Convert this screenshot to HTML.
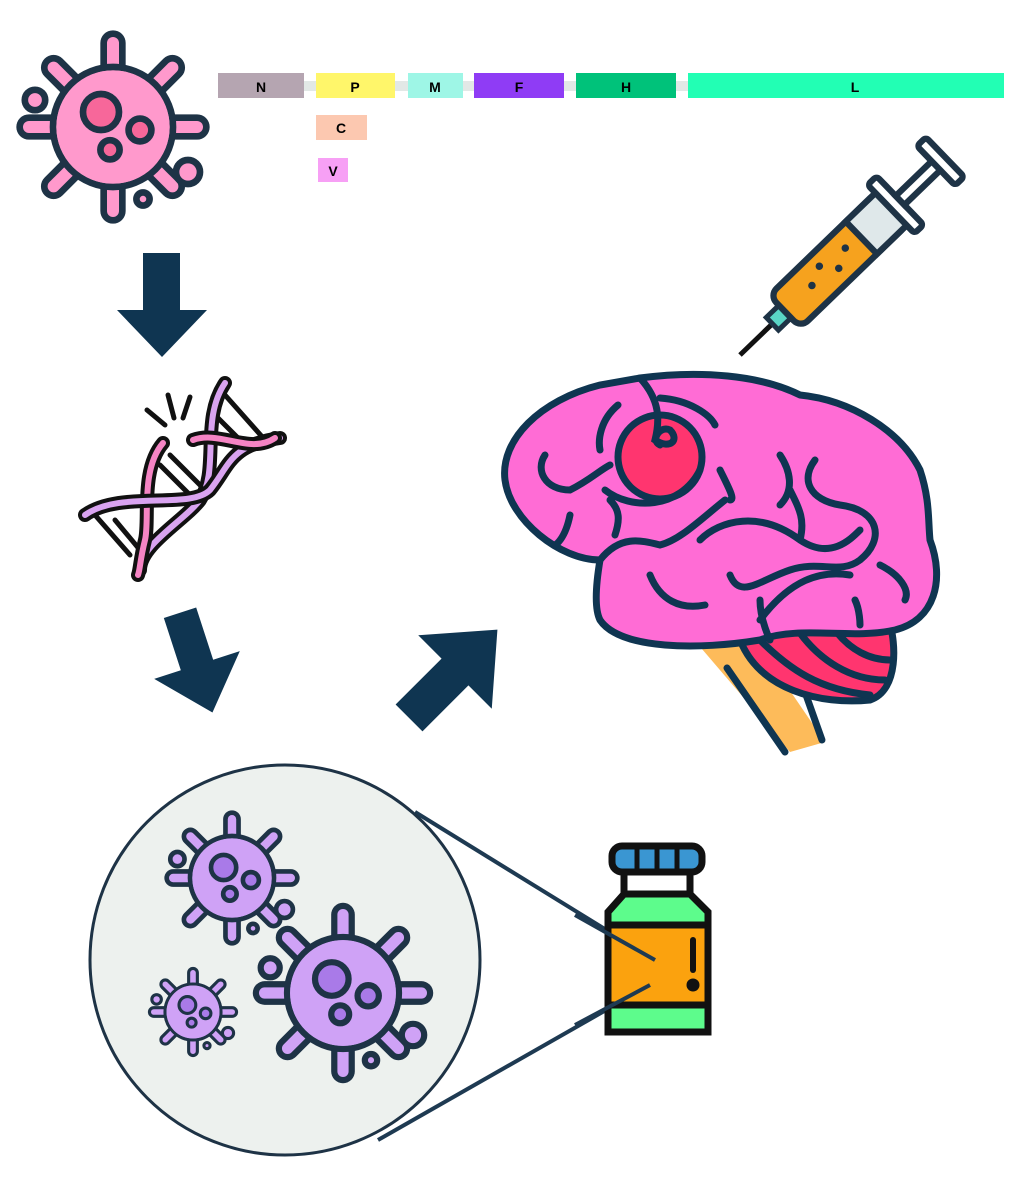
<!DOCTYPE html>
<html><head><meta charset="utf-8"><style>
html,body{margin:0;padding:0;background:#fff;width:1028px;height:1183px;overflow:hidden}
svg{display:block}
text{font-family:"Liberation Sans",sans-serif;font-weight:bold;font-size:14px;text-anchor:middle}
</style></head><body>
<svg id="s" width="1028" height="1183" viewBox="0 0 1028 1183" xmlns="http://www.w3.org/2000/svg">
<!-- gene bars -->
<rect x="300" y="81" width="700" height="10" fill="#e2e8e6"/>
<rect x="218" y="73" width="86" height="25" fill="#b5a5b1"/><text x="261" y="92">N</text>
<rect x="316" y="73" width="79" height="25" fill="#fff66a"/><text x="355" y="92">P</text>
<rect x="408" y="73" width="55" height="25" fill="#9ef6e6"/><text x="435" y="92">M</text>
<rect x="474" y="73" width="90" height="25" fill="#8f3cf5"/><text x="519" y="92">F</text>
<rect x="576" y="73" width="100" height="25" fill="#00c27a"/><text x="626" y="92">H</text>
<rect x="688" y="73" width="316" height="25" fill="#22ffb4"/><text x="855" y="92">L</text>
<rect x="316" y="115" width="51" height="25" fill="#fcc8b0"/><text x="341" y="133">C</text>
<rect x="318" y="158" width="30" height="24" fill="#f7a0f5"/><text x="333" y="176">V</text>

<!-- arrows -->
<g fill="#0f3551">
<polygon points="143,253 180,253 180,310 207,310 162,357 117,310 143,310"/>
<g transform="translate(197,665) rotate(-18)"><polygon points="-17,-55 17,-55 17,0 45,0 0,50 -45,0 -17,0"/></g>
<g transform="translate(455,672) rotate(-135)"><polygon points="-19,-65 19,-65 19,0 52,0 0,60 -52,0 -19,0"/></g>
</g>

<!-- DNA -->
<g stroke-linecap="round" fill="none">
<g stroke="#111" stroke-width="5">
<line x1="225" y1="395" x2="265" y2="440"/><line x1="210" y1="410" x2="250" y2="450"/>
<line x1="160" y1="465" x2="200" y2="505"/><line x1="170" y1="455" x2="210" y2="495"/>
<line x1="95" y1="515" x2="130" y2="555"/><line x1="115" y1="520" x2="140" y2="550"/>
<line x1="147" y1="410" x2="165" y2="425"/><line x1="168" y1="395" x2="174" y2="418"/><line x1="190" y1="397" x2="183" y2="418"/>
</g>
<path d="M225,383 C200,420 220,470 200,500 C185,520 140,545 140,570" stroke="#111" stroke-width="14"/>
<path d="M225,383 C200,420 220,470 200,500 C185,520 140,545 140,570" stroke="#d9a3f0" stroke-width="6"/>
<path d="M163,443 C140,470 150,520 145,540 C140,560 140,570 138,575" stroke="#111" stroke-width="14"/>
<path d="M163,443 C140,470 150,520 145,540 C140,560 140,570 138,575" stroke="#f584c4" stroke-width="6"/>
<path d="M85,515 C120,490 190,510 210,490 C230,465 230,445 280,438" stroke="#111" stroke-width="14"/>
<path d="M85,515 C120,490 190,510 210,490 C230,465 230,445 280,438" stroke="#d9a3f0" stroke-width="6"/>
<path d="M193,440 C220,430 250,455 275,438" stroke="#111" stroke-width="14"/>
<path d="M193,440 C220,430 250,455 275,438" stroke="#f584c4" stroke-width="6"/>
</g>

<!-- syringe -->
<g transform="translate(740,355) rotate(-44) scale(1.25)">
<line x1="0" y1="0" x2="40" y2="0" stroke="#111" stroke-width="4"/>
<rect x="36" y="-7" width="14" height="14" fill="#5ad5c6" stroke="#1e3346" stroke-width="4"/>
<rect x="50" y="-18" width="120" height="36" rx="8" fill="#f6a21e" stroke="#1e3346" stroke-width="5"/>
<rect x="135" y="-18" width="35" height="36" fill="#dfe8ea" stroke="#1e3346" stroke-width="5"/>
<rect x="168" y="-27" width="10" height="54" rx="3" fill="#fff" stroke="#1e3346" stroke-width="5"/>
<rect x="178" y="-5" width="42" height="10" fill="#fff" stroke="#1e3346" stroke-width="5"/>
<rect x="218" y="-22" width="10" height="44" rx="3" fill="#fff" stroke="#1e3346" stroke-width="5"/>
<g fill="#1e3346"><circle cx="80" cy="0" r="3"/><circle cx="95" cy="-7" r="3"/><circle cx="105" cy="5" r="3"/><circle cx="120" cy="-3" r="3"/></g>
</g>

<!-- brain -->
<g stroke="#0f3551" stroke-width="7" stroke-linecap="round" fill="none">
<polygon points="690,635 752,635 825,742 790,752" fill="#fdbb5a" stroke="none"/>
<line x1="727" y1="668" x2="785" y2="752"/><line x1="800" y1="678" x2="822" y2="740"/>
<path d="M740,640 C760,690 820,705 870,700 C900,690 895,640 890,625 L740,630 Z" fill="#ff356f"/>
<path d="M760,640 C790,670 820,690 870,695 M800,633 C820,660 850,680 885,680 M835,630 C850,650 870,660 890,660" />
<path d="M640,378 C700,370 760,375 800,395 C850,400 900,430 920,470 C930,500 928,520 930,540 C945,580 935,620 895,630 C850,640 800,625 760,640 C700,650 620,650 600,620 C595,610 595,590 600,560 C560,560 510,520 505,480 C500,440 540,400 600,385 Z" fill="#ff6cd5"/>
<circle cx="660" cy="457" r="42" fill="#ff356f"/>
<path d="M640,378 C660,400 660,420 655,440 C670,450 680,440 670,430 C660,425 650,440 660,445"/>
<path d="M618,405 C600,420 598,440 600,450 M660,398 C690,400 710,415 715,425 M545,455 C535,470 545,490 570,490 C590,480 600,470 610,465 M605,490 C630,510 680,510 700,470 M720,470 C730,490 735,500 730,500 M780,455 C790,470 795,490 780,505 M725,500 C700,520 680,540 660,545 C640,540 620,535 600,560 M700,540 C720,520 760,510 800,540 C830,560 850,540 860,530 M815,460 C800,480 810,500 840,505 C880,510 885,540 860,560 C840,575 820,560 790,570 C760,580 740,600 730,575 M790,490 C800,510 805,520 800,540 M650,575 C660,600 680,610 705,605 M760,600 C760,620 770,640 770,640 M855,600 C860,610 860,625 860,625 M760,620 C790,580 820,570 850,575 M880,565 C900,575 910,590 905,600 M570,515 C565,540 555,545 555,545 M610,500 C620,510 620,520 615,535"/>
</g>

<!-- magnifier -->
<line x1="415" y1="812" x2="655" y2="960" stroke="#1e3a52" stroke-width="4"/>
<line x1="378" y1="1140" x2="650" y2="985" stroke="#1e3a52" stroke-width="4"/>
<circle cx="285" cy="960" r="195" fill="#edf1ee" stroke="#1e3346" stroke-width="3"/>

<!-- bottle -->
<g stroke="#111" stroke-width="7">
<rect x="612" y="846" width="90" height="26" rx="10" fill="#3a96d2"/>
<rect x="624" y="872" width="66" height="22" fill="#fff"/>
<path d="M624,894 L690,894 L708,912 L708,1032 L608,1032 L608,912 Z" fill="#5dfc8c"/>
<rect x="608" y="925" width="100" height="80" fill="#fba20e"/>
<line x1="693" y1="940" x2="693" y2="970" stroke-width="6" stroke-linecap="round"/>
<circle cx="693" cy="985" r="3" fill="#111"/>
</g>
<g stroke="#111" stroke-width="5"><line x1="637" y1="849" x2="637" y2="870"/><line x1="657" y1="849" x2="657" y2="870"/><line x1="677" y1="849" x2="677" y2="870"/></g>
<line x1="575" y1="915" x2="655" y2="960" stroke="#1e3a52" stroke-width="4"/>
<line x1="575" y1="1025" x2="650" y2="985" stroke="#1e3a52" stroke-width="4"/>
<g id="v"></g>
</svg>
<script>
function virus(cx,cy,r,body,dark){
 let s='',n=8,st='#1e3346',sw=Math.max(2.5,r/9);
 let sp=[];
 for(let i=0;i<n;i++){let a=i*Math.PI*2/n-Math.PI/2;sp.push([cx+Math.cos(a)*r*0.9,cy+Math.sin(a)*r*0.9,cx+Math.cos(a)*r*1.4,cy+Math.sin(a)*r*1.4]);}
 sp.forEach(p=>s+=`<line x1="${p[0]}" y1="${p[1]}" x2="${p[2]}" y2="${p[3]}" stroke="${st}" stroke-width="${r*0.2+sw*2}" stroke-linecap="round"/>`);
 sp.forEach(p=>s+=`<line x1="${p[0]}" y1="${p[1]}" x2="${p[2]}" y2="${p[3]}" stroke="${body}" stroke-width="${r*0.2}" stroke-linecap="round"/>`);
 s+=`<circle cx="${cx}" cy="${cy}" r="${r}" fill="${body}" stroke="${st}" stroke-width="${sw}"/>`;
 s+=`<circle cx="${cx}" cy="${cy}" r="${r-sw/2}" fill="${body}"/>`;
 s+=`<circle cx="${cx-r*0.2}" cy="${cy-r*0.25}" r="${r*0.3}" fill="${dark}" stroke="${st}" stroke-width="${sw}"/>`;
 s+=`<circle cx="${cx+r*0.45}" cy="${cy+r*0.05}" r="${r*0.19}" fill="${dark}" stroke="${st}" stroke-width="${sw}"/>`;
 s+=`<circle cx="${cx-r*0.05}" cy="${cy+r*0.38}" r="${r*0.16}" fill="${dark}" stroke="${st}" stroke-width="${sw}"/>`;
 s+=`<circle cx="${cx+r*1.25}" cy="${cy+r*0.75}" r="${r*0.2}" fill="${body}" stroke="${st}" stroke-width="${sw}"/>`;
 s+=`<circle cx="${cx-r*1.3}" cy="${cy-r*0.45}" r="${r*0.17}" fill="${body}" stroke="${st}" stroke-width="${sw}"/>`;
 s+=`<circle cx="${cx+r*0.5}" cy="${cy+r*1.2}" r="${r*0.11}" fill="${body}" stroke="${st}" stroke-width="${sw}"/>`;
 return s;}
document.getElementById('v').innerHTML=
 virus(113,127,60,'#ff99cc','#f7679a')+
 virus(232,878,42,'#cfa2f6','#a97ae8')+
 virus(343,993,56,'#cfa2f6','#a97ae8')+
 virus(193,1012,28,'#cfa2f6','#a97ae8');
</script>
</body></html>
